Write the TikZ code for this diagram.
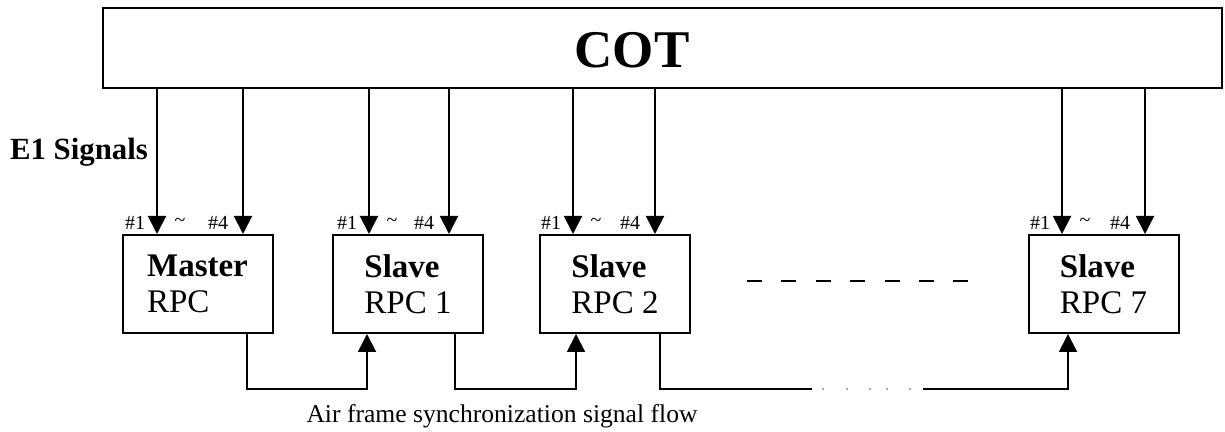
\documentclass[tikz,border=0pt]{standalone}
\usepackage{fontspec}
\setmainfont{Liberation Serif}
\usetikzlibrary{arrows.meta}
\begin{document}
\begin{tikzpicture}[x=0.5pt,y=-0.5pt,
  ln/.style={line width=1pt},
  box/.style={draw, line width=1pt, minimum width=75pt, minimum height=49pt, align=left, inner sep=0pt, font=\fontsize{16.5}{18}\selectfont},
  arr/.style={line width=1pt, -{Triangle[width=9pt,length=9pt]}},
  lab/.style={font=\fontsize{10}{11}\selectfont, inner sep=0pt},
  dashline/.style={line width=1pt, dash pattern=on 7.5pt off 9.7pt}]
\useasboundingbox (0,0) rectangle (1225,432);
% COT
\node[draw, line width=1pt, minimum width=559.5pt, minimum height=40pt, inner sep=0pt] (cot) at (662.5,48) {};
\node[font=\bfseries\fontsize{26.5}{30}\selectfont, inner sep=0pt] (cottext) at (632,50) {COT};
\node[font=\bfseries\fontsize{15.4}{17}\selectfont, inner sep=0pt] (e1) at (79,152) {E1 Signals};
% boxes
\node[box] (m)  at (197.5,284) {\textbf{Master}\\RPC};
\node[box] (r1) at (408,284) {\textbf{Slave}\\RPC 1};
\node[box] (r2) at (615,284) {\textbf{Slave}\\RPC 2};
\node[box] (r7) at (1103.5,284) {\textbf{Slave}\\RPC 7};
% top arrow x positions
\coordinate (ma) at (157,0); \coordinate (mb) at (243,0);
\coordinate (aa) at (369,0); \coordinate (ab) at (449,0);
\coordinate (ba) at (573,0); \coordinate (bb) at (655,0);
\coordinate (ca) at (1062,0); \coordinate (cb) at (1145,0);
\draw[arr] (cot.south -| ma) -- (m.north -| ma);
\draw[arr] (cot.south -| mb) -- (m.north -| mb);
\draw[arr] (cot.south -| aa) -- (r1.north -| aa);
\draw[arr] (cot.south -| ab) -- (r1.north -| ab);
\draw[arr] (cot.south -| ba) -- (r2.north -| ba);
\draw[arr] (cot.south -| bb) -- (r2.north -| bb);
\draw[arr] (cot.south -| ca) -- (r7.north -| ca);
\draw[arr] (cot.south -| cb) -- (r7.north -| cb);
% labels
\foreach \a/\b/\n in {157/243/m, 369/449/a, 573/655/b, 1062/1145/c}{
  \node[lab] (l1\n) at (\a-22,223) {\#1};
  \node[lab] (lt\n) at (\a+23,222) {\textasciitilde};
  \node[lab] (l4\n) at (\b-25,223) {\#4};
}
% dashes
\coordinate (d1) at (747,281); \coordinate (d2) at (968,281);
\draw[dashline] (d1) -- (d2);
% sync flow
\coordinate (s1) at (247,0); \coordinate (e1c) at (367,389);
\draw[arr] (m.south -| s1) |- (e1c) -- (r1.south -| e1c);
\coordinate (s2) at (455,0); \coordinate (e2c) at (576,389);
\draw[arr] (r1.south -| s2) |- (e2c) -- (r2.south -| e2c);
\coordinate (s3) at (660,0); \coordinate (g1) at (812,389);
\coordinate (g2) at (923,389); \coordinate (e3c) at (1068,389);
\draw[ln] (r2.south -| s3) |- (g1);
\draw[arr] (g2) -- (e3c) -- (r7.south -| e3c);
\foreach \x in {823,847,870,887,910}{\fill[black!45] (\x,389) circle (0.6pt);}
\node[font=\fontsize{12.8}{14}\selectfont, inner sep=0pt] (flow) at (502,416) {Air frame synchronization signal flow};
\end{tikzpicture}
\end{document}
